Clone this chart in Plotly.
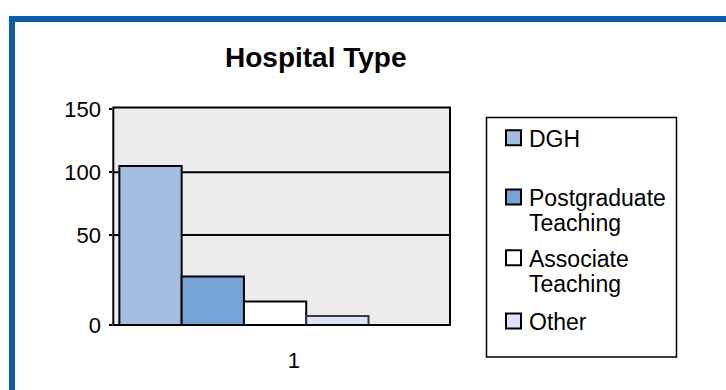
import plotly.graph_objects as go

W, H = 726, 390

# ---- data -------------------------------------------------------------
categories = ["1"]
hospital_types = ["DGH", "Postgraduate Teaching", "Associate Teaching", "Other"]
legend_lines = [["DGH"], ["Postgraduate", "Teaching"], ["Associate", "Teaching"], ["Other"]]
counts = [105, 27, 13, 5]
value_ticks = [0, 50, 100, 150]
gridline_values = [50, 100]

# ---- styling ----------------------------------------------------------
bar_colors = ["#a6bde2", "#77a2d5", "#ffffff", "#dde4f4"]
edge_colors = ["#000000", "#000000", "#000000", "#3a3a3a"]
FONT = "Liberation Sans, Arial, sans-serif"
FRAME_BLUE = "#0b5ca9"

# The value axis is a broken scale: 0-50 is drawn taller than 50-150.
BREAK = 50.0
UPPER_SQUEEZE = 0.698  # height of one unit above the break relative to below it
AXIS_MAX = 151.5


def scale(v):
    return v if v <= BREAK else BREAK + (v - BREAK) * UPPER_SQUEEZE


def px(x):
    return x / W


def py(y):
    return 1 - y / H


# plot-area geometry (pixels)
plot_left, plot_right = 113.3, 450.0
plot_top, plot_bottom = 107.5, 325.0

fig = go.Figure()
for name, val, col, edge in zip(hospital_types, counts, bar_colors, edge_colors):
    fig.add_trace(
        go.Bar(
            x=categories,
            y=[scale(val)],
            customdata=[val],
            name=name,
            marker=dict(color=col, line=dict(color=edge, width=2)),
            showlegend=False,
            hovertemplate=name + ": %{customdata}<extra></extra>",
        )
    )

tick_font = dict(family=FONT, size=22, color="black")

fig.update_layout(
    width=W,
    height=H,
    margin=dict(l=0, r=0, t=0, b=0, autoexpand=False),
    paper_bgcolor="white",
    plot_bgcolor="#ececec",
    barmode="group",
    bargap=0.26,
    bargroupgap=0,
    showlegend=False,
    xaxis=dict(
        domain=[px(plot_left), px(plot_right)],
        type="category",
        range=[-0.388, 0.612],
        showline=False,
        showgrid=False,
        zeroline=False,
        ticks="",
        tickfont=tick_font,
        ticklabelshift=50,
        ticklabelstandoff=20,
        automargin=False,
        fixedrange=True,
    ),
    yaxis=dict(
        domain=[py(plot_bottom), py(plot_top)],
        range=[0, scale(AXIS_MAX)],
        tickvals=[scale(v) for v in value_ticks],
        ticktext=[str(v) for v in value_ticks],
        showgrid=False,
        zeroline=False,
        showline=False,
        ticks="outside",
        ticklen=3,
        tickwidth=2,
        tickcolor="black",
        tickfont=tick_font,
        ticklabelstandoff=4,
        automargin=False,
        fixedrange=True,
    ),
)

shapes = []

# horizontal gridlines behind the bars
for v in gridline_values:
    shapes.append(
        dict(
            type="line",
            xref="x domain",
            x0=0,
            x1=1,
            yref="y",
            y0=scale(v),
            y1=scale(v),
            layer="below",
            line=dict(color="black", width=2),
        )
    )

# plot-area border
shapes.append(
    dict(
        type="rect",
        xref="x domain",
        yref="y domain",
        x0=0,
        x1=1,
        y0=0,
        y1=1,
        line=dict(color="black", width=2),
        fillcolor="rgba(0,0,0,0)",
        layer="above",
    )
)

# outer blue frame (runs off the right and bottom edges)
shapes.append(
    dict(
        type="rect",
        xref="paper",
        yref="paper",
        x0=px(12),
        x1=px(W + 20),
        y0=py(H + 20),
        y1=py(19),
        line=dict(color=FRAME_BLUE, width=6),
        fillcolor="rgba(0,0,0,0)",
        layer="above",
    )
)

# legend box
leg_left, leg_right, leg_top, leg_bottom = 486.5, 676.5, 117.5, 357.0
shapes.append(
    dict(
        type="rect",
        xref="paper",
        yref="paper",
        x0=px(leg_left),
        x1=px(leg_right),
        y0=py(leg_bottom),
        y1=py(leg_top),
        line=dict(color="black", width=1.5),
        fillcolor="white",
        layer="above",
    )
)

annotations = []

# legend entries: swatch + one or two text lines
first_baselines = [146.7, 206.0, 266.7, 330.0]
line_step = 25.0
swatch_left, swatch_size = 506.0, 15.0
text_left = 528.0
legend_size = 23
for lines, col, base in zip(legend_lines, bar_colors, first_baselines):
    sw_bottom = base - 1.5
    shapes.append(
        dict(
            type="rect",
            xref="paper",
            yref="paper",
            x0=px(swatch_left),
            x1=px(swatch_left + swatch_size),
            y0=py(sw_bottom),
            y1=py(sw_bottom - swatch_size),
            line=dict(color="black", width=2),
            fillcolor=col,
            layer="above",
        )
    )
    for i, text in enumerate(lines):
        b = base + i * line_step
        annotations.append(
            dict(
                text=text,
                xref="paper",
                yref="paper",
                x=px(text_left),
                y=py(b - 0.3465 * legend_size),
                xanchor="left",
                yanchor="middle",
                showarrow=False,
                borderpad=0,
                font=dict(family=FONT, size=legend_size, color="black"),
            )
        )

# chart title
title_size = 28
annotations.append(
    dict(
        text="<b>Hospital Type</b>",
        xref="paper",
        yref="paper",
        x=px(316),
        y=py(67 - 0.3465 * title_size),
        xanchor="center",
        yanchor="middle",
        showarrow=False,
        borderpad=0,
        font=dict(family=FONT, size=title_size, color="black"),
    )
)

fig.update_layout(shapes=shapes, annotations=annotations)

fig.write_html("out.html")
